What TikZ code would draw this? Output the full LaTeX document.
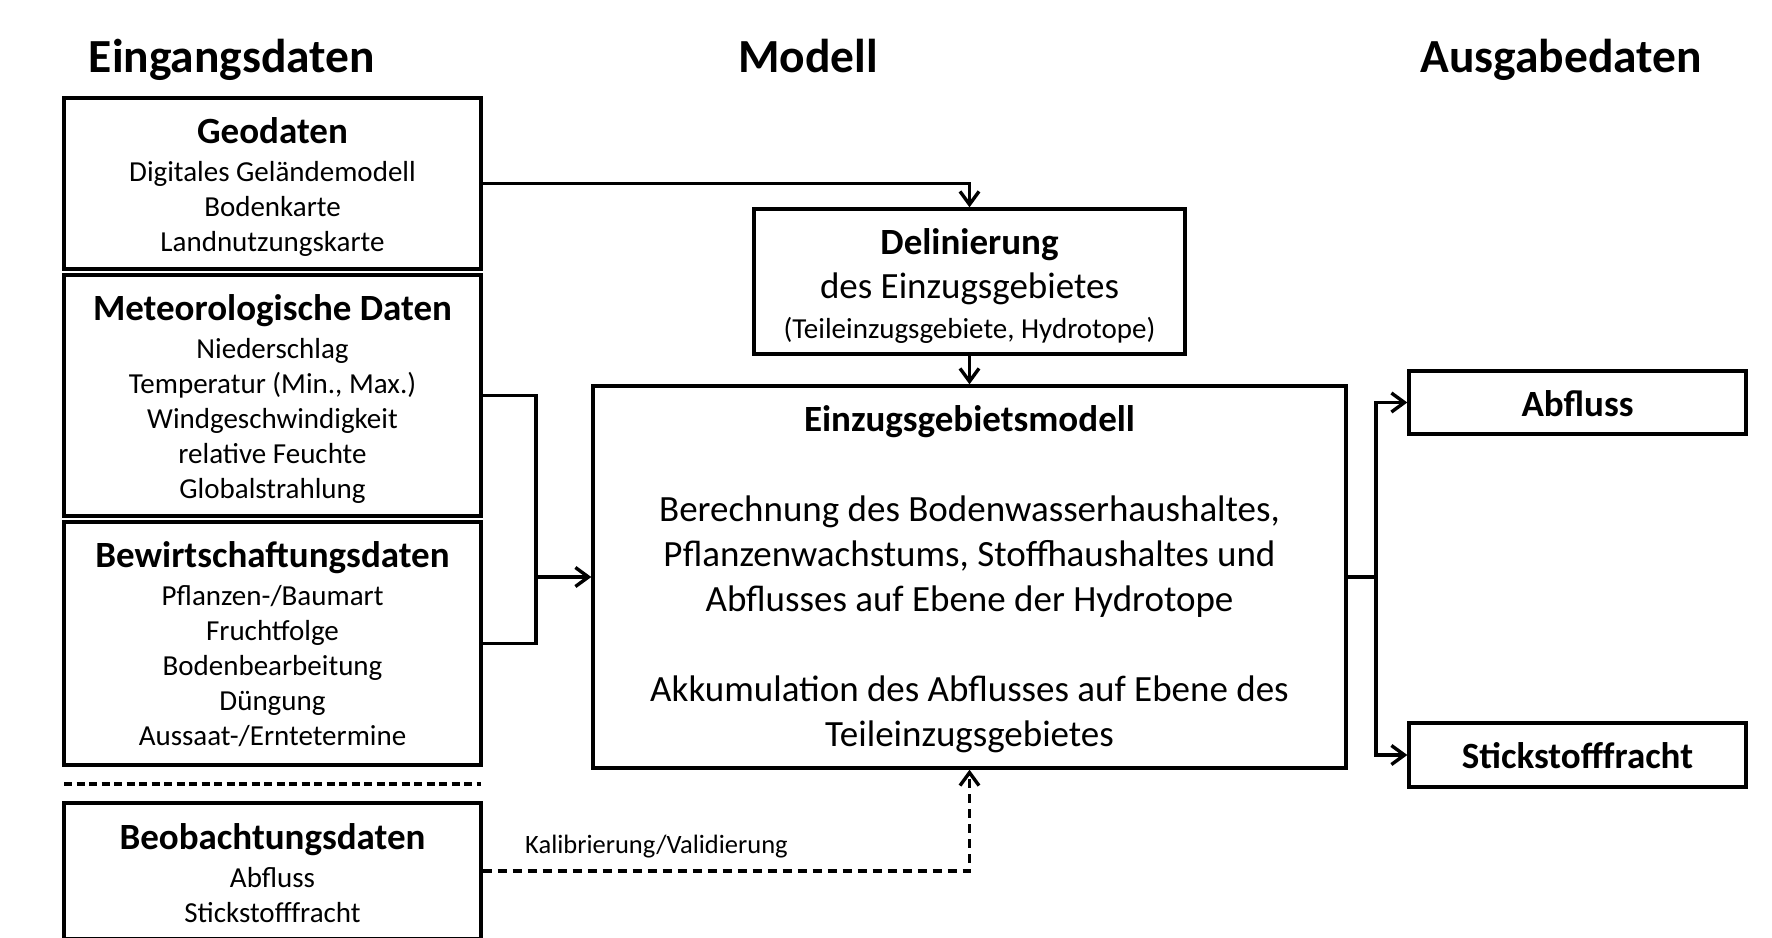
\documentclass[tikz,border=0pt]{standalone}
\usepackage{fontspec}
\setmainfont{Carlito}
\usetikzlibrary{arrows.meta}
\begin{document}
\begin{tikzpicture}[x=1pt,y=-1pt,
  box/.style={draw=black, line width=3.4pt, inner sep=0pt},
  txt/.style={align=center, inner sep=0pt, font=\fontsize{29}{35}\selectfont},
  head/.style={font=\fontsize{47.5}{56}\selectfont\bfseries},
  conn/.style={line width=3.4pt, draw=black},
  arr/.style={conn, -{Straight Barb[length=13pt,width=19pt,line width=3.4pt]}},
  dasharr/.style={arr, dash pattern=on 9pt off 6pt},
]
\useasboundingbox (0,0) rectangle (1772,937);
\fill[white] (0,0) rectangle (1772,937);
\newcommand{\bt}[1]{{\fontsize{37}{40}\selectfont\bfseries #1}}
% headings
\node[head, anchor=base] (h1) at (232,72) {Eingangsdaten};
\node[head, anchor=base] (h2) at (808,72) {Modell};
\node[head, anchor=base] (h3) at (1561,72) {Ausgabedaten};
% input boxes
\node[box, minimum width=417pt, minimum height=171pt] (geo) at (272.5,183.5) {};
\node[txt] (geot) at (272.5,187)
  {\bt{Geodaten}\\[3pt] Digitales Geländemodell\\ Bodenkarte\\ Landnutzungskarte};
\node[box, minimum width=417pt, minimum height=241pt] (met) at (272.5,395.5) {};
\node[txt] (mett) at (272.5,399)
  {\bt{Meteorologische Daten}\\[3pt] Niederschlag\\ Temperatur (Min., Max.)\\ Windgeschwindigkeit\\ relative Feuchte\\ Globalstrahlung};
\node[box, minimum width=417pt, minimum height=243pt] (bew) at (272.5,643.5) {};
\node[txt] (bewt) at (272.5,644)
  {\bt{Bewirtschaftungsdaten}\\[3pt] Pflanzen-/Baumart\\ Fruchtfolge\\ Bodenbearbeitung\\ Düngung\\ Aussaat-/Erntetermine};
\coordinate (sepl) at (64,784);
\coordinate (sepr) at (481,784);
\draw[line width=3.4pt, dash pattern=on 8pt off 4.5pt] (sepl) -- (sepr);
\node[box, minimum width=417pt, minimum height=136pt] (beob) at (272.5,871) {};
\node[txt] (beobt) at (272.5,873)
  {\bt{Beobachtungsdaten}\\[3pt] Abfluss\\ Stickstofffracht};
% model
\node[box, minimum width=431pt, minimum height=145pt] (del) at (969.5,281.5) {};
\node[txt] (delt) at (969.5,286)
  {\bt{Delinierung}\\[9pt] {\fontsize{37}{40}\selectfont des Einzugsgebietes}\\[5pt] (Teileinzugsgebiete, Hydrotope)};
\node[box, minimum width=753pt, minimum height=382pt] (ezg) at (969.5,577) {};
\node[txt, font=\fontsize{37}{45}\selectfont] (ezgt) at (969.5,579.5)
  {{\bfseries Einzugsgebietsmodell}\\[45pt]
   Berechnung des Bodenwasserhaushaltes,\\ Pflanzenwachstums, Stoffhaushaltes und\\ Abflusses auf Ebene der Hydrotope\\[45pt]
   Akkumulation des Abflusses auf Ebene des\\ Teileinzugsgebietes};
% outputs
\node[box, minimum width=337pt, minimum height=63pt] (abf) at (1577.5,402.5) {};
\node[txt] (abft) at (1577.5,404) {\bt{Abfluss}};
\node[box, minimum width=337pt, minimum height=64pt] (sti) at (1577.5,755) {};
\node[txt] (stit) at (1577.5,756) {\bt{Stickstofffracht}};
% connectors
\draw[arr] (geo.east) -| (del.north);
\draw[arr] (del.south) -- (ezg.north);
\coordinate (jl) at (536,577);
\draw[conn] (met.east) -| (jl) |- (bew.east);
\draw[arr] (jl) -- (ezg.west);
\coordinate (jr) at (1376,577);
\draw[conn] (ezg.east) -- (jr);
\draw[arr] (jr) |- (abf.west);
\draw[arr] (jr) |- (sti.west);
\draw[dasharr] (beob.east) -| (ezg.south);
\node[anchor=base west, font=\fontsize{26.5}{30}\selectfont, inner sep=0pt] (kal) at (525,853) {Kalibrierung/Validierung};
\end{tikzpicture}
\end{document}
